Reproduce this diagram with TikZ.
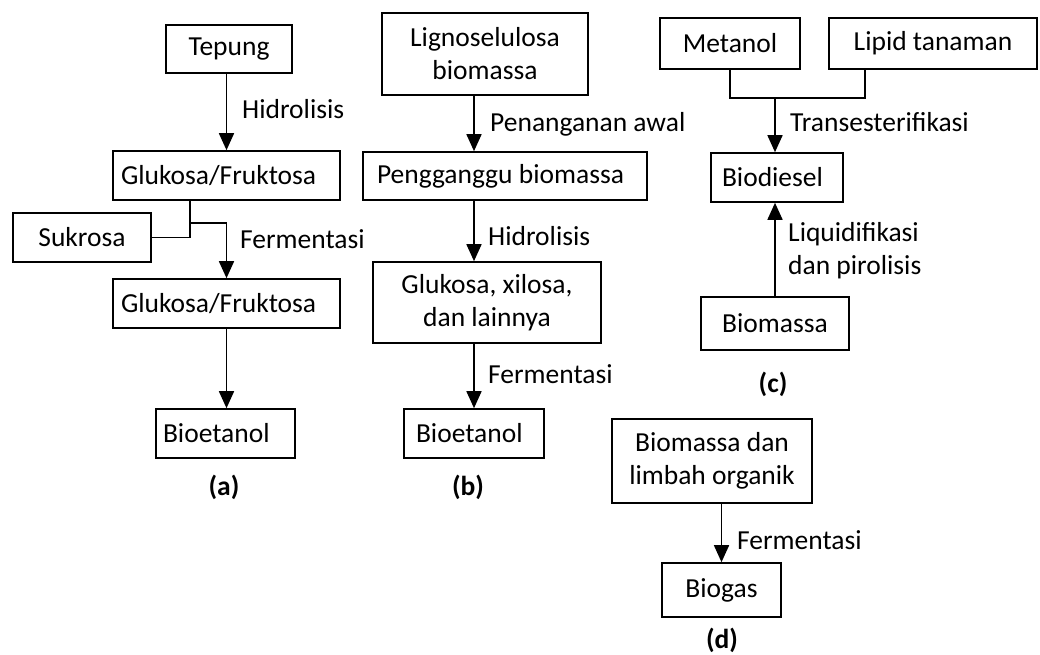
\documentclass[tikz,border=0pt]{standalone}
\usepackage{fontspec}
\setmainfont{Carlito}
\usetikzlibrary{arrows.meta,calc}
\newcommand{\lefttext}[3]{\makebox[#1][l]{\hspace*{#2}#3}}
\begin{document}
\begin{tikzpicture}[x=1pt,y=-1pt,
  every node/.style={font=\fontsize{27.5}{33}\selectfont},
  box/.style={draw, line width=1.6pt, inner sep=0pt, align=center},
  conn/.style={line width=1.6pt},
  arr/.style={line width=1.6pt, -{Triangle[width=15pt,length=17pt]}},
  lbl/.style={anchor=base west, inner sep=0pt},
  panelcap/.style={anchor=base, inner sep=0pt, font=\fontsize{27.5}{33}\selectfont\bfseries}]
\useasboundingbox (0,0) rectangle (1040,655);
% ---------- (a)
\node[box, minimum width=126pt, minimum height=48pt] (tep) at (229,49) {Tepung};
\node[box, minimum height=49pt] (glu1) at (226.5,175.5) {\lefttext{227pt}{8pt}{Glukosa/Fruktosa}};
\node[box, minimum width=138pt, minimum height=49pt] (suk) at (82,237.5) {Sukrosa};
\node[box, minimum height=49pt] (glu2) at (226.5,303.5) {\lefttext{227pt}{8pt}{Glukosa/Fruktosa}};
\node[box, minimum height=49pt] (bioa) at (225.5,433.5) {\lefttext{139pt}{7pt}{Bioetanol}};
\coordinate (ja) at (190,223);
\draw[arr] (tep.south -| glu1.north) -- (glu1.north);
\draw[conn] (glu1.south -| ja) |- (suk.east);
\draw[arr] (ja) -| (glu2.north);
\draw[arr] (glu2.south) -- (glu2.south |- bioa.north);
\node[lbl] (la1) at (242,119) {Hidrolisis};
\node[lbl] (la2) at (240,248) {Fermentasi};
\node[panelcap] (capa) at (224,495) {(a)};
% ---------- (b)
\node[box, minimum width=206pt, minimum height=82pt] (lig) at (485,54) {Lignoselulosa\\biomassa};
\node[box, minimum height=48pt] (pen) at (505,176) {\lefttext{284pt}{14pt}{Pengganggu biomassa}};
\node[box, minimum width=228pt, minimum height=81pt] (glx) at (487,302.5) {Glukosa, xilosa,\\dan lainnya};
\node[box, minimum height=49pt] (biob) at (474,433.5) {\lefttext{140pt}{12pt}{Bioetanol}};
\draw[arr] (lig.south -| biob.north) -- (pen.north -| biob.north);
\draw[arr] (pen.south -| biob.north) -- (glx.north -| biob.north);
\draw[arr] (glx.south -| biob.north) -- (biob.north);
\node[lbl] (lb1) at (490,132) {Penanganan awal};
\node[lbl] (lb2) at (488,245) {Hidrolisis};
\node[lbl] (lb3) at (488,383) {Fermentasi};
\node[panelcap] (capb) at (468,495) {(b)};
% ---------- (c)
\node[box, minimum width=140pt, minimum height=51pt] (met) at (730,43.5) {Metanol};
\node[box, minimum width=208pt, minimum height=51pt] (lip) at (933,43.5) {Lipid tanaman};
\node[box, minimum height=49pt] (bd) at (777,177.5) {\lefttext{132pt}{11pt}{Biodiesel}};
\node[box, minimum width=148pt, minimum height=53pt] (bm) at (775,323.5) {Biomassa};
\coordinate (jc) at (775,98);
\draw[conn] (met.south) -- (met.south |- jc) -| ($(lip.south west)+(37,0)$);
\draw[arr] (jc) -- (bd.north -| jc);
\draw[arr] (bm.north) -- (bm.north |- bd.south);
\node[lbl] (lc1) at (790,132) {Transesterifikasi};
\node[lbl, align=left, anchor=north west] (lc2) at (788,222) {Liquidifikasi\\dan pirolisis};
\node[panelcap] (capc) at (773,392) {(c)};
% ---------- (d)
\node[box, minimum width=200pt, minimum height=84pt] (bl) at (712,461) {Biomassa dan\\limbah organik};
\node[box, minimum width=119pt, minimum height=54pt] (bg) at (721.5,590) {Biogas};
\draw[arr] (bg.north |- bl.south) -- (bg.north);
\node[lbl] (ld1) at (737,549) {Fermentasi};
\node[panelcap] (capd) at (722,648) {(d)};
\end{tikzpicture}
\end{document}
